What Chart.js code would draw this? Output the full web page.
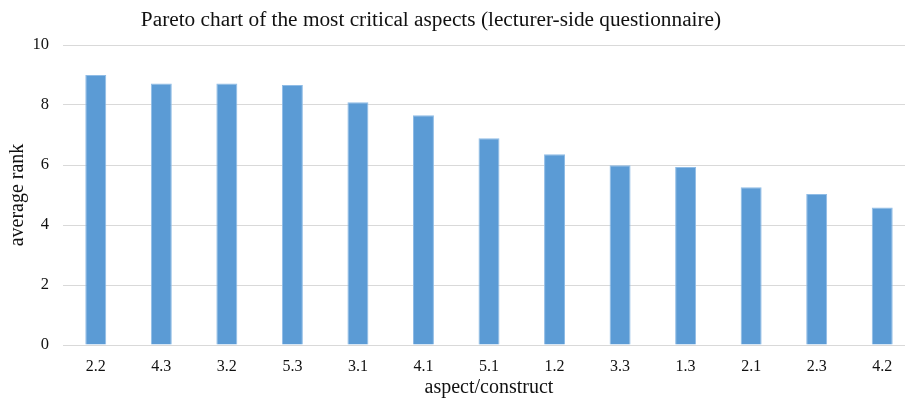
<!DOCTYPE html>
<html>
<head>
<meta charset="utf-8">
<script src="https://cdn.jsdelivr.net/npm/chart.js@4"></script>
<style>
  html, body { margin: 0; padding: 0; background: #fff; overflow: hidden; }
  #wrap { width: 915px; height: 400px; }
</style>
</head>
<body>
<div id="wrap"><canvas id="pareto"></canvas></div>
<script>
// aspects, sorted by average rank
const aspects = ['2.2', '4.3', '3.2', '5.3', '3.1', '4.1', '5.1', '1.2', '3.3', '1.3', '2.1', '2.3', '4.2'];
const avgRank = [9.0, 8.72, 8.72, 8.67, 8.09, 7.66, 6.89, 6.36, 5.99, 5.93, 5.26, 5.03, 4.58];
const yTicks = [0, 2, 4, 6, 8, 10];

const serif = "'Liberation Serif', 'Times New Roman', serif";
const titleText = 'Pareto chart of the most critical aspects (lecturer-side questionnaire)';

// title sits left of the canvas centre in the original, so draw it by hand
const titlePlugin = {
  id: 'offsetTitle',
  afterDraw(chart) {
    const ctx = chart.ctx;
    ctx.save();
    ctx.font = '21.3px ' + serif;
    ctx.fillStyle = '#111';
    ctx.textAlign = 'center';
    ctx.textBaseline = 'middle';
    ctx.fillText(titleText, 431, 20);
    ctx.restore();
  }
};

new Chart(document.getElementById('pareto'), {
  type: 'bar',
  data: {
    labels: aspects,
    datasets: [{
      label: 'average rank',
      data: avgRank,
      backgroundColor: '#5B9BD5',
      borderColor: '#8FBCE6',
      borderWidth: 1,
      barPercentage: 0.32,
      categoryPercentage: 1
    }]
  },
  options: {
    responsive: true,
    maintainAspectRatio: false,
    animation: false,
    layout: { padding: { top: 45, left: 0, right: 0, bottom: 0 } },
    plugins: {
      legend: { display: false },
      tooltip: { enabled: false }
    },
    scales: {
      x: {
        afterFit(scale) { scale.height = 55; },
        grid: { display: false },
        border: { display: false },
        ticks: { color: '#111', font: { family: serif, size: 16 }, padding: 4, maxRotation: 0 },
        title: {
          display: true,
          text: 'aspect/construct',
          color: '#111',
          font: { family: serif, size: 20 },
          padding: { top: 0, bottom: 0 }
        }
      },
      y: {
        min: 0,
        max: 10,
        afterFit(scale) { scale.width = 63; },
        afterBuildTicks(axis) { axis.ticks = yTicks.map(v => ({ value: v })); },
        grid: { color: '#d9d9d9', lineWidth: 1, drawTicks: false },
        border: { display: false },
        ticks: { color: '#111', font: { family: serif, size: 16.5 }, padding: 14 },
        title: {
          display: true,
          text: 'average rank',
          color: '#111',
          font: { family: serif, size: 20 },
          padding: { top: 6, bottom: 0 }
        }
      }
    }
  },
  plugins: [titlePlugin]
});
</script>
</body>
</html>
